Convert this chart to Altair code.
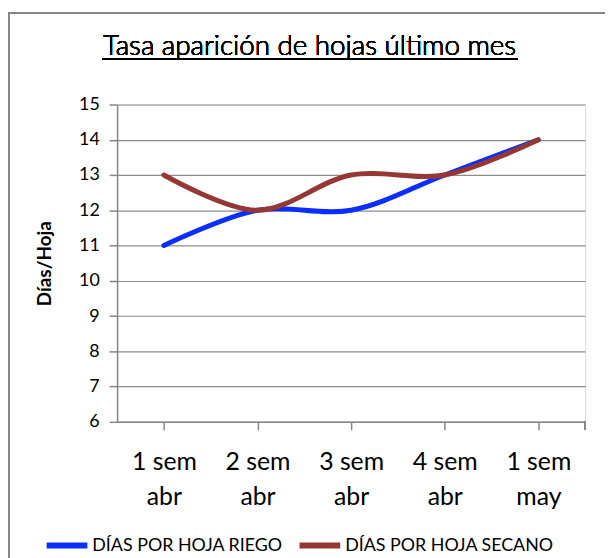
import altair as alt
import pandas as pd

weeks = ["1 sem abr", "2 sem abr", "3 sem abr", "4 sem abr", "1 sem may"]
riego = [11, 12, 12, 13, 14]
secano = [13, 12, 13, 13, 14]
series_names = ["DÍAS POR HOJA RIEGO", "DÍAS POR HOJA SECANO"]
colors = ["#0A2EFF", "#953735"]
y_ticks = [6, 7, 8, 9, 10, 11, 12, 13, 14, 15]

rows = []
for w, r, s in zip(weeks, riego, secano):
    rows.append({"week": w, "series": series_names[0], "value": r})
    rows.append({"week": w, "series": series_names[1], "value": s})
df = pd.DataFrame(rows)

FONT = "Lato"
W, H = 472, 320

x_enc = alt.X(
    "week:N", sort=weeks, title=None,
    scale=alt.Scale(paddingInner=0, paddingOuter=0),
    axis=alt.Axis(
        labelExpr="[slice(datum.label, 0, 5), slice(datum.label, 6)]",
        labelFontSize=25, labelFont=FONT, labelColor="#000000",
        labelLineHeight=35, labelPadding=20, labelAngle=0,
        bandPosition=0, tickSize=8, tickColor="#868686", domainColor="#868686",
        domainWidth=1.5, tickWidth=1.5, grid=False,
    ),
)
y_enc = alt.Y(
    "value:Q", title="Días/Hoja",
    scale=alt.Scale(domain=[6, 15], nice=False, zero=False),
    axis=alt.Axis(
        values=y_ticks, labelFontSize=18, labelFont=FONT, labelColor="#000000",
        labelPadding=10, tickSize=8, tickColor="#868686", domainColor="#868686",
        domainWidth=1.5, tickWidth=1.5,
        grid=True, gridColor="#8C8C8C", gridWidth=1.2,
        titleFont=FONT, titleFontSize=19, titleFontWeight="bold", titleColor="#000000",
        titleX=-73, titleY=160, titleAngle=-90, titleBaseline="middle",
    ),
)

lines = alt.Chart(df).mark_line(
    interpolate="catmull-rom", strokeWidth=5, strokeCap="round", strokeJoin="round"
).encode(
    x=x_enc, y=y_enc,
    color=alt.Color(
        "series:N", sort=series_names,
        scale=alt.Scale(domain=series_names, range=colors),
        legend=alt.Legend(
            title=None, orient="none", direction="horizontal",
            legendX=-74, legendY=421,
            symbolType="stroke", symbolSize=1681, symbolStrokeWidth=6,
            labelFont=FONT, labelFontSize=18, labelColor="#000000",
            labelOffset=2, columnPadding=4, labelLimit=0,
        ),
    ),
    order=alt.Order("series:N"),
)

end_tick = alt.Chart(df).mark_rule(color="#868686", strokeWidth=1.5).encode(
    x=alt.value(W), y=alt.value(H), y2=alt.value(H + 8)
)

title = alt.Chart(df).mark_text(
    text="Tasa aparición de hojas último mes", font=FONT, fontSize=28,
    fontWeight=300, color="#000000", align="center", baseline="alphabetic",
).encode(x=alt.value(194), y=alt.value(-50))

underline = alt.Chart(df).mark_rule(color="#000000", strokeWidth=1.3).encode(
    x=alt.value(-15), x2=alt.value(404), y=alt.value(-46)
)

frame = alt.Chart(df).mark_rect(
    fill=None, stroke="#868686", strokeWidth=1.5
).encode(
    x=alt.value(-109), x2=alt.value(620), y=alt.value(-92), y2=alt.value(470)
)

chart = alt.layer(frame, lines, end_tick, title, underline).properties(
    width=W, height=H,
    autosize=alt.AutoSizeParams(type="none"),
    padding={"left": 110, "top": 95, "right": 20, "bottom": 135},
).configure_view(stroke=None).configure(background="#FFFFFF")

chart.save("out.html", embed_options={"renderer": "svg", "actions": False})
